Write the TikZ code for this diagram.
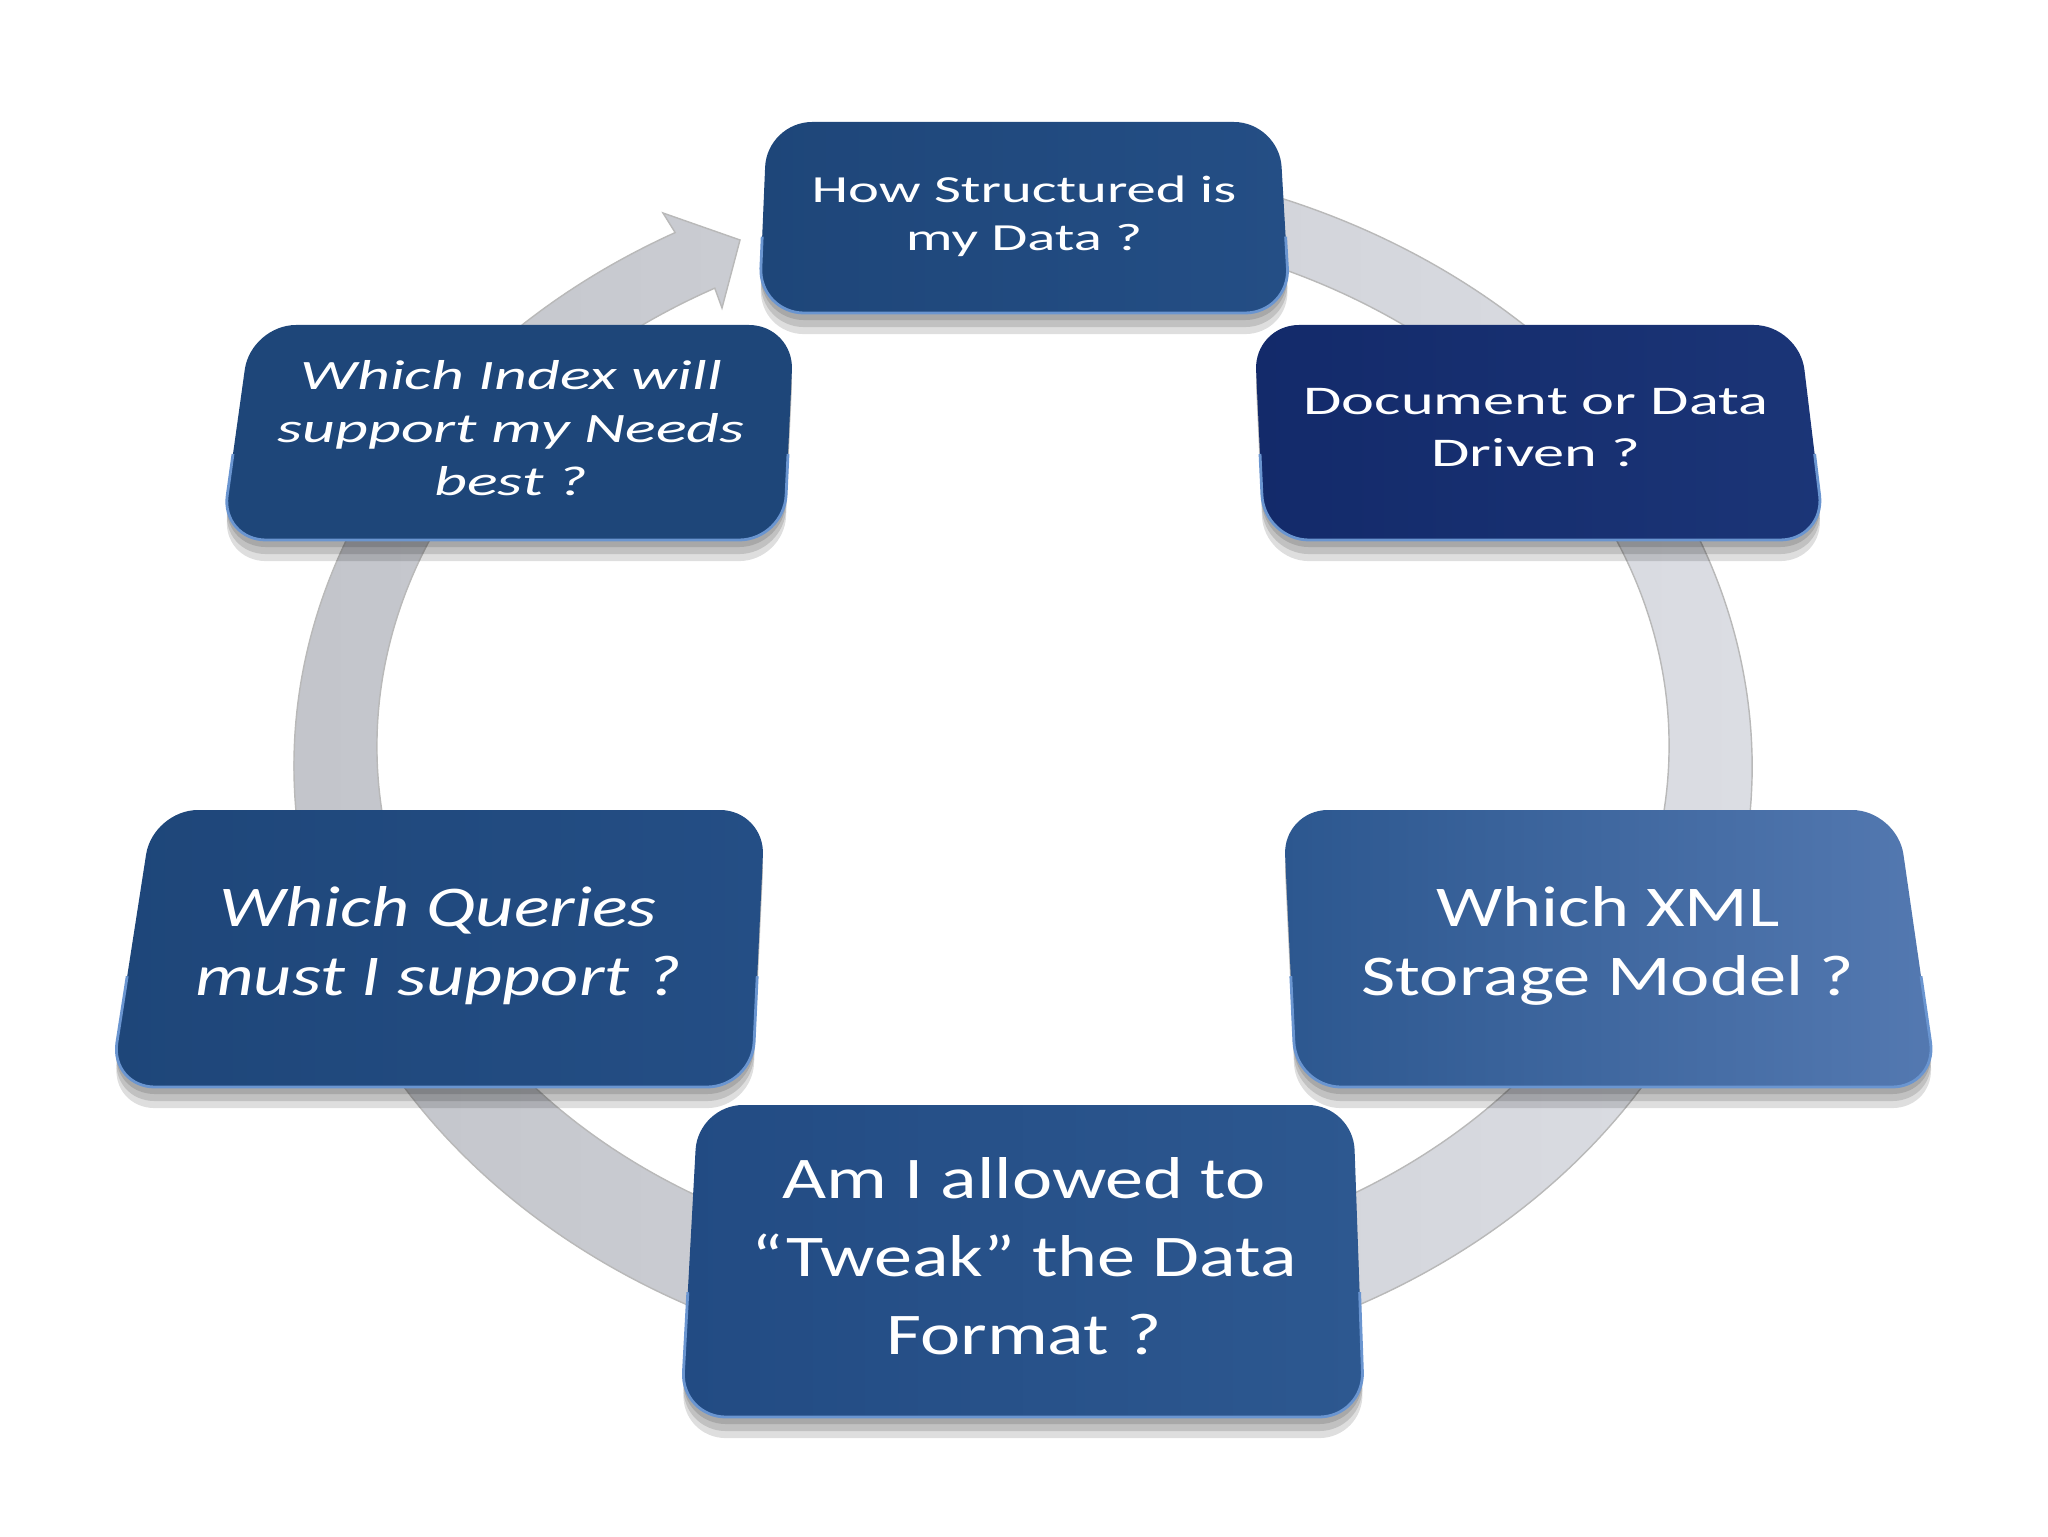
\documentclass[tikz,border=0pt]{standalone}
\usepackage{fontspec}
\setmainfont{Carlito}
\newfontfamily\farface[FakeStretch=1.53]{Carlito}
\newfontfamily\nearface[FakeStretch=1.29]{Carlito}
\usetikzlibrary{calc}

\definecolor{ringL}{HTML}{C2C4CA}
\definecolor{ringR}{HTML}{DCDEE4}
\definecolor{cardA}{HTML}{1E4679}
\definecolor{cardAr}{HTML}{244E85}
\definecolor{cardN}{HTML}{132A6A}
\definecolor{cardNr}{HTML}{1B3577}
\definecolor{cardX}{HTML}{2C578F}
\definecolor{cardXr}{HTML}{5479B1}
\definecolor{cardT}{HTML}{224B83}
\definecolor{cardTr}{HTML}{2D5890}
\definecolor{bevel}{HTML}{6A95D0}

\tikzset{
  ring/.style={left color=ringL,right color=ringR,draw=gray!55,line width=0.4pt},
  qshadow/.style={fill=black,opacity=0.13,rounded corners=4.5mm},
  qcardbase/.style={rounded corners=4.5mm},
  qbevel/.style={draw=bevel,line width=0.8pt,rounded corners=4.5mm},
  qtext/.style={text=white,align=center,inner sep=0pt},
  farrow/.style={qtext,font=\farface\fontsize{11.6}{14.8}\selectfont},
  nearrow/.style={qtext,font=\nearface\fontsize{16.4}{19.6}\selectfont}
}

% card: #1 shading, #2..#5 corners TL TR BR BL
\newcommand\qcard[5]{%
  \foreach \s in {2,4,6}{\fill[qshadow,yshift=-\s pt] (#2) -- (#3) -- (#4) -- (#5) -- cycle;}
  \path[qcardbase,#1] (#2) -- (#3) -- (#4) -- (#5) -- cycle;
  \draw[qbevel] ($(#5)!.4!(#2)$) -- (#5) -- (#4) -- ($(#4)!.4!(#3)$);}

\begin{document}
\begin{tikzpicture}[x=0.1mm,y=0.1mm]
\useasboundingbox (0,0) rectangle (2048,1536);
\fill[white] (0,0) rectangle (2048,1536);
% circular arrow behind the cards
\fill[ring] (1023,770) ++(100:729 and 607)
  arc[start angle=100,end angle=-241.5,x radius=729,y radius=607]
  -- (663,1323) -- (740,1296) -- (722,1228)
  -- ($(1023,790)+(118.5:646 and 521)$)
  arc[start angle=-241.5,end angle=100,x radius=646,y radius=521] -- cycle;
% cards
\qcard{left color=cardA,right color=cardAr}{767,1414}{1279,1414}{1290,1223}{759,1223}
\qcard{left color=cardN,right color=cardNr}{1254,1211}{1799,1211}{1825,996}{1264,996}
\qcard{left color=cardX,right color=cardXr}{1283,726}{1897,726}{1937,449}{1296,449}
\qcard{left color=cardT,right color=cardTr}{698,431}{1353,431}{1364,119}{681,119}
\qcard{left color=cardA,right color=cardAr}{153,726}{765,726}{752,449}{110,449}
\qcard{left color=cardA,right color=cardA}{251,1211}{794,1211}{784,996}{221,996}
% questions
\node[farrow,font=\farface\fontsize{10.9}{13.7}\selectfont] (struct) at (1024,1320) {How Structured is\\my Data ?};
\node[farrow] (docdata) at (1536,1108) {Document or Data\\Driven ?};
\node[nearrow] (xmlstore) at (1608,590) {Which XML\\Storage Model ?};
\node[nearrow,font=\nearface\fontsize{16.8}{22.2}\selectfont] (tweak) at (1024,280) {Am I allowed to\\“Tweak” the Data\\Format ?};
\node[nearrow,font=\nearface\itshape\fontsize{16.4}{19.6}\selectfont] (queries) at (438,590) {Which Queries\\must I support ?};
\node[farrow,font=\farface\itshape\fontsize{11.9}{15.1}\selectfont] (index) at (511,1108) {Which Index will\\support my Needs\\best ?};
\end{tikzpicture}
\end{document}
